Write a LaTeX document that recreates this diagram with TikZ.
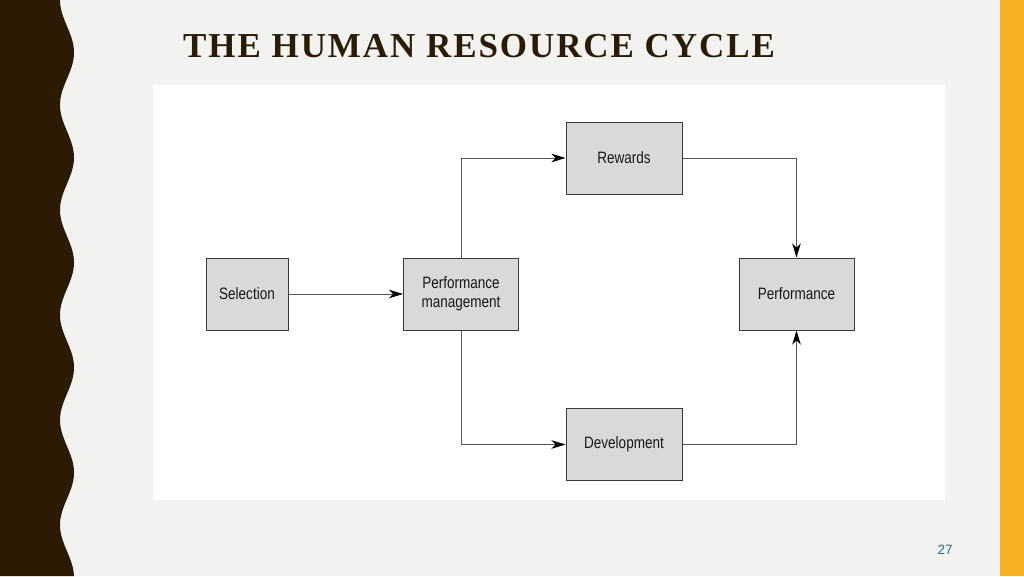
\documentclass[tikz,border=0pt]{standalone}
\usepackage{fontspec}
\usetikzlibrary{arrows.meta}
\newfontfamily\titlefont[LetterSpace=5.5]{Liberation Serif}
\newfontfamily\boxfont[FakeStretch=0.82]{Liberation Sans}
\newfontfamily\numfont{Liberation Sans}
\definecolor{bgcol}{HTML}{F2F2F0}
\definecolor{darkbrown}{HTML}{2B1B04}
\definecolor{orangebar}{HTML}{F8B122}
\definecolor{boxfill}{HTML}{D9D9D9}
\definecolor{boxline}{HTML}{3A3A3A}
\definecolor{linecol}{HTML}{555555}
\definecolor{numcol}{HTML}{2A6E8A}
\tikzset{
  hrbox/.style={draw=boxline, line width=1pt, fill=boxfill, inner sep=0pt,
    font=\boxfont\fontsize{16.5}{19}\selectfont, text=black!90, align=center},
  flow/.style={draw=linecol, line width=1pt,
    -{Stealth[length=14pt,width=8.5pt,inset=4pt,fill=black,color=black]}},
}
\begin{document}
\begin{tikzpicture}[x=1pt,y=-1pt]
\useasboundingbox (0,0) rectangle (1024,576);
\fill[bgcol] (0,0) rectangle (1024,576);
\fill[orangebar] (1000,0) rectangle (1024,576);
\fill[darkbrown] (0,0) -- plot[domain=0:576, samples=240, variable=\t] ({67-7*cos(\t*3.4285714)}, \t) -- (0,576) -- cycle;
\fill[white] (153,85) rectangle (945,500);
\node[anchor=base west, inner sep=0pt, text=darkbrown, font=\titlefont\bfseries\fontsize{35}{40}\selectfont] (title) at (183,57) {THE HUMAN RESOURCE CYCLE};
\node[hrbox, minimum width=82pt, minimum height=72pt] (sel) at (247,294) {Selection};
\node[hrbox, minimum width=115pt, minimum height=72pt] (pm) at (461,294) {Performance\\management};
\node[hrbox, minimum width=116pt, minimum height=72pt] (rew) at (624,158) {Rewards};
\node[hrbox, minimum width=115pt, minimum height=72pt] (perf) at (796.5,294) {Performance};
\node[hrbox, minimum width=116pt, minimum height=72pt] (dev) at (624,444.5) {Development};
\draw[flow] (sel.east) -- (pm.west);
\draw[flow] (pm.north) |- (rew.west);
\draw[flow] (rew.east) -| (perf.north);
\draw[flow] (pm.south) |- (dev.west);
\draw[flow] (dev.east) -| (perf.south);
\node[text=numcol, font=\numfont\fontsize{13.5}{16}\selectfont, inner sep=0pt] (pg) at (945,550) {27};
\end{tikzpicture}
\end{document}
